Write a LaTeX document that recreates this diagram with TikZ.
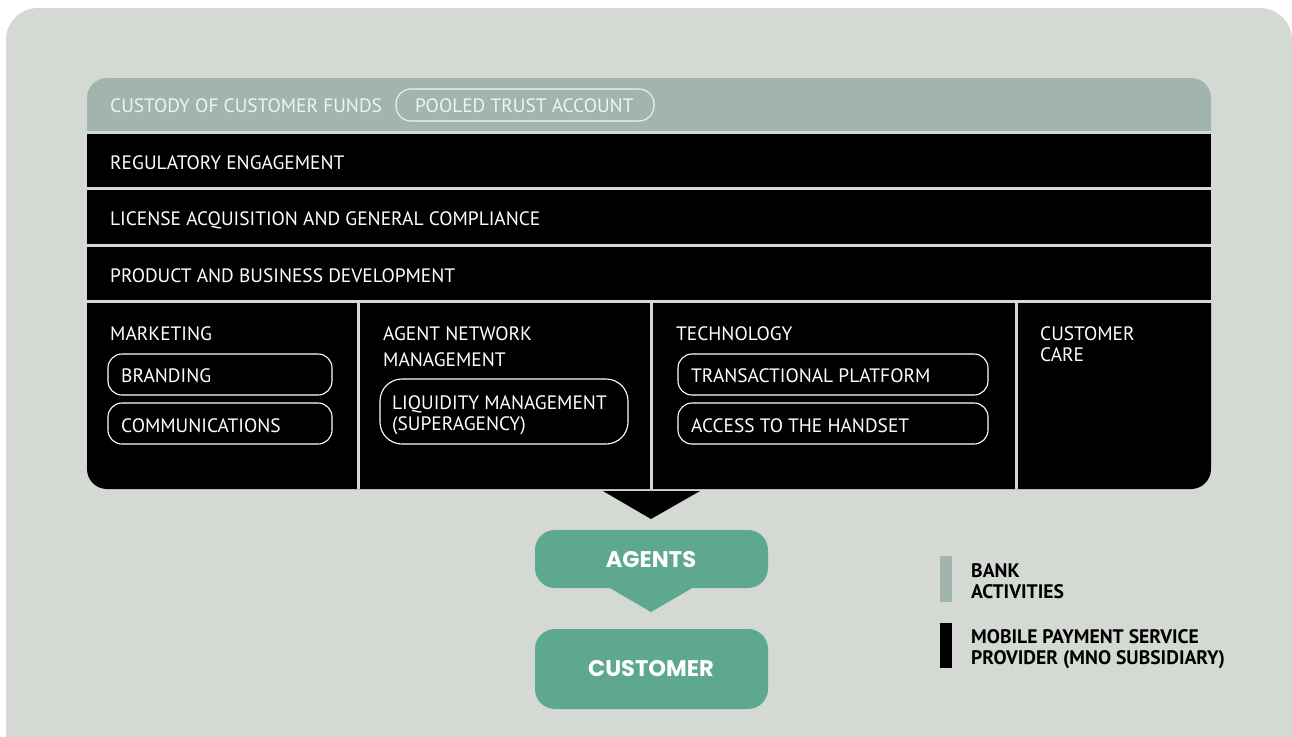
\documentclass[tikz,border=0pt]{standalone}
\usepackage{fontspec}
\setmainfont{PT Sans}
\newfontfamily\popfont{Poppins}
\definecolor{bgc}{HTML}{D4D9D3}
\definecolor{bankc}{HTML}{A1B4AD}
\definecolor{tealc}{HTML}{5EA790}
\definecolor{lighttxt}{HTML}{F0F4F1}
\tikzset{
  lbl/.style={anchor=base west, inner sep=0pt, text=white, font=\fontsize{19.4}{19.4}\selectfont},
  banklbl/.style={lbl, text=lighttxt},
  pill/.style={draw=white, line width=1.1pt, rounded corners=14pt},
  bankpill/.style={draw=lighttxt, line width=1.1pt, rounded corners=15pt},
  leg/.style={anchor=base west, inner sep=0pt, text=black, font=\fontsize{19.6}{19.6}\selectfont\bfseries},
  flowbox/.style={fill=tealc, rounded corners=20pt},
  flowlbl/.style={text=white, font=\popfont\fontsize{22.6}{22.6}\selectfont\bfseries, inner sep=0pt},
  sep/.style={fill=bgc},
  divider/.style={draw=bgc, line width=2.5pt}
}
\begin{document}
\begin{tikzpicture}[x=1pt,y=-1pt]
\useasboundingbox (0,0) rectangle (1292,736);
\fill[white] (0,0) rectangle (1292,736);
% outer panel
\fill[bgc, rounded corners=32pt] (6,8) rectangle (1292,766);
% bank band
\fill[bankc, rounded corners=20pt] (87,78) rectangle (1211,151);
% black bands
\fill[black] (87,134) rectangle (1211,187);
\fill[black] (87,190) rectangle (1211,244);
\fill[black, rounded corners=20pt] (87,283) rectangle (1211,489);
\fill[black] (87,247) rectangle (1211,300);
\fill[sep] (87,131) rectangle (1211,134);
\fill[sep] (87,300) rectangle (1211,303);
\draw[divider] (358.5,303) -- (358.5,489);
\draw[divider] (651.5,303) -- (651.5,489);
\draw[divider] (1016.5,303) -- (1016.5,489);
% texts of bands
\node[banklbl] (custody) at (110,112) {CUSTODY OF CUSTOMER FUNDS};
\draw[bankpill] (396,89) rectangle (654,121);
\node[banklbl] (pooled) at (415,112) {POOLED TRUST ACCOUNT};
\node[lbl] (reg) at (110,169) {REGULATORY ENGAGEMENT};
\node[lbl] (lic) at (110,225) {LICENSE ACQUISITION AND GENERAL COMPLIANCE};
\node[lbl] (prod) at (110,282) {PRODUCT AND BUSINESS DEVELOPMENT};
% column headers
\node[lbl] (mkt) at (110,340) {MARKETING};
\node[lbl] (agn1) at (383,340) {AGENT NETWORK};
\node[lbl] (agn2) at (383,366) {MANAGEMENT};
\node[lbl] (tech) at (676,340) {TECHNOLOGY};
\node[lbl] (cc1) at (1040,340) {CUSTOMER};
\node[lbl] (cc2) at (1040,361) {CARE};
% pills
\draw[pill] (108,354) rectangle (332,395);
\node[lbl] (brand) at (121,382) {BRANDING};
\draw[pill] (108,403) rectangle (332,444);
\node[lbl] (comm) at (121,432) {COMMUNICATIONS};
\draw[pill, rounded corners=22pt] (380,379) rectangle (628,444);
\node[lbl] (liq1) at (392,409) {LIQUIDITY MANAGEMENT};
\node[lbl] (liq2) at (392,430) {(SUPERAGENCY)};
\draw[pill] (678,354) rectangle (988,395);
\node[lbl] (trans) at (691,382) {TRANSACTIONAL PLATFORM};
\draw[pill] (678,403) rectangle (988,444);
\node[lbl] (access) at (691,432) {ACCESS TO THE HANDSET};
% flow
\fill[black] (603,491) -- (700,491) -- (651,519) -- cycle;
\fill[flowbox] (535,530) rectangle (768,588);
\fill[tealc] (608,587) -- (694,587) -- (651,612) -- cycle;
\node[flowlbl] (agents) at (651,560) {AGENTS};
\fill[flowbox] (535,629) rectangle (768,709);
\node[flowlbl] (customer) at (651,669) {CUSTOMER};
% legend
\fill[bankc] (940,556) rectangle (952,602);
\fill[black] (940,623) rectangle (952,668);
\node[leg] (bank1) at (971,577) {BANK};
\node[leg] (bank2) at (971,598) {ACTIVITIES};
\node[leg] (mob1) at (971,643) {MOBILE PAYMENT SERVICE};
\node[leg] (mob2) at (971,664) {PROVIDER (MNO SUBSIDIARY)};
\end{tikzpicture}
\end{document}
